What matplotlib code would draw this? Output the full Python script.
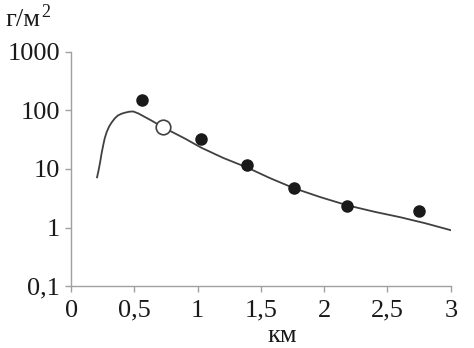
import numpy as np
import matplotlib.pyplot as plt
from matplotlib.ticker import FixedLocator, NullLocator

plt.rcParams['font.family'] = ['Liberation Serif', 'DejaVu Serif']

# measured points (filled)
obs_km = [0.56, 1.03, 1.39, 1.76, 2.18, 2.75]
obs_val = [148, 33, 11.5, 4.8, 2.3, 1.9]
# open circle
open_km = [0.73]
open_val = [53]
# model curve
curve_km = [0.205, 0.215, 0.229, 0.24, 0.253, 0.265, 0.28, 0.30, 0.32, 0.345, 0.37, 0.40,
            0.43, 0.46, 0.49, 0.53, 0.63, 0.73, 0.9, 1.03, 1.2, 1.39, 1.57, 1.76, 1.97,
            2.18, 2.4, 2.6, 2.8, 3.0]
curve_val = [7.2, 9.0, 12.9, 18, 25, 33, 42, 53, 62, 73, 82, 88,
             92, 95, 96, 89, 68, 51, 33, 23, 15.5, 10.6, 7.0, 4.7, 3.3,
             2.4, 1.85, 1.5, 1.18, 0.9]

xticks = [0, 0.5, 1, 1.5, 2, 2.5, 3]
xlabels = ['0', '0,5', '1', '1,5', '2', '2,5', '3']
yticks = [0.1, 1, 10, 100, 1000]
ylabels = ['0,1', '1', '10', '100', '1000']

fig = plt.figure(figsize=(4.74, 3.48), dpi=100)
ax = fig.add_axes([0.150, 0.178, 0.801, 0.673])

ax.plot(curve_km, curve_val, color='#404040', lw=1.3, zorder=2)
ax.plot(obs_km, obs_val, 'o', color='#1a1a1a', ms=8, zorder=3)
ax.plot(open_km, open_val, 'o', mfc='white', mec='#404040', mew=1.2, ms=10.5, zorder=4)

ax.set_yscale('log')
ax.set_xlim(0, 3)
ax.set_ylim(0.1, 1000)
ax.xaxis.set_major_locator(FixedLocator(xticks))
ax.set_xticklabels(xlabels)
ax.yaxis.set_major_locator(FixedLocator(yticks))
ax.yaxis.set_minor_locator(NullLocator())
ax.set_yticklabels(ylabels)

for s in ['top', 'right']:
    ax.spines[s].set_visible(False)
for s in ['left', 'bottom']:
    ax.spines[s].set_color('#a0a0a0')
    ax.spines[s].set_linewidth(1.0)
ax.tick_params(colors='#a0a0a0', labelcolor='#1a1a1a', labelsize=19, length=4, width=1.0)
ax.tick_params(axis='x', pad=6)
ax.tick_params(axis='y', pad=4)

fig.text(0.012, 0.925, 'г/м', fontsize=19, color='#1a1a1a', ha='left', va='baseline')
fig.text(0.087, 0.95, '2', fontsize=13, color='#1a1a1a', ha='left', va='baseline')
fig.text(0.595, 0.018, 'км', fontsize=19, color='#1a1a1a', ha='center', va='baseline')

fig.savefig('out.png', dpi=100)
